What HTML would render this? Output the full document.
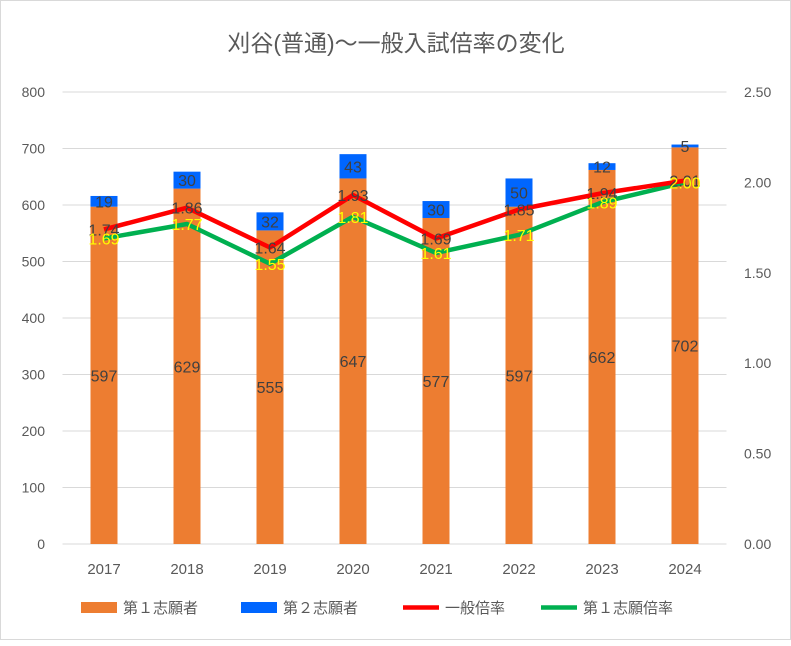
<!DOCTYPE html>
<html><head><meta charset="utf-8"><style>
body{margin:0;background:#fff;}
#c{position:absolute;left:0;top:0;width:789px;height:638px;border:1px solid #d9d9d9;background:#fff;}
text{font-family:"Liberation Sans","Noto Sans CJK JP",sans-serif;}
</style></head><body>
<div id="c">
<svg id="s" width="791" height="640" xmlns="http://www.w3.org/2000/svg"></svg>
</div>
<script>
const years=["2017","2018","2019","2020","2021","2022","2023","2024"];
const first=[597,629,555,647,577,597,662,702];
const second=[19,30,32,43,30,50,12,5];
const rateAll=[1.74,1.86,1.64,1.93,1.69,1.85,1.94,2.01];
const rateFirst=[1.69,1.77,1.55,1.81,1.61,1.71,1.89,2.00];
const leftTicks=[0,100,200,300,400,500,600,700,800];
const rightTicks=["0.00","0.50","1.00","1.50","2.00","2.50"];
const NS="http://www.w3.org/2000/svg";
const svg=document.getElementById('s');
const x0=61.5,x1=725.5,yb=543,yt=91;
const yL=v=>yb-(v/800)*(yb-yt);
const yR=v=>yb-(v/2.5)*(yb-yt);
const bw=(x1-x0)/years.length;
const xc=i=>x0+bw*(i+0.5);
function el(t,a,txt){const e=document.createElementNS(NS,t);for(const k in a)e.setAttribute(k,a[k]);if(txt!==undefined)e.textContent=txt;svg.appendChild(e);return e;}
let t=el('text',{x:395,y:50,'text-anchor':'middle','font-size':23,fill:'#595959'},'刈谷(普通)～一般入試倍率の変化');

leftTicks.forEach(v=>{let g=el('line',{x1:x0,x2:x1,y1:yL(v),y2:yL(v),stroke:'#d9d9d9','stroke-width':1});

let l=el('text',{x:44,y:yL(v)+5,'text-anchor':'end','font-size':14,fill:'#595959'},v);
});
rightTicks.forEach(v=>{let l=el('text',{x:743,y:yR(+v)+5,'font-size':14,fill:'#595959'},v);
});
const w=27;
years.forEach((y,i)=>{
let b=el('rect',{x:xc(i)-w/2,y:yL(first[i]),width:w,height:yb-yL(first[i]),fill:'#ed7d31'});

let b2=el('rect',{x:xc(i)-w/2,y:yL(first[i]+second[i]),width:w,height:yL(first[i])-yL(first[i]+second[i]),fill:'#0066ff'});

let l=el('text',{x:xc(i),y:yL(first[i]/2)+6,'text-anchor':'middle','font-size':16,fill:'#404040'},first[i]);

let l2=el('text',{x:xc(i),y:yL(first[i]+second[i]/2)+6,'text-anchor':'middle','font-size':16,fill:'#404040'},second[i]);

let xl=el('text',{x:xc(i),y:573,'text-anchor':'middle','font-size':15,fill:'#595959'},y);

});
function line(arr,col,name){let p=el('polyline',{points:arr.map((v,i)=>xc(i)+','+yR(v)).join(' '),fill:'none',stroke:col,'stroke-width':4.5,'stroke-linejoin':'round'});
}
line(rateFirst,'#00b050','line-first-rate');
line(rateAll,'#ff0000','line-general-rate');
years.forEach((y,i)=>{
let a=el('text',{x:xc(i),y:yR(rateAll[i])+6,'text-anchor':'middle','font-size':16,fill:'#404040'},rateAll[i].toFixed(2));

let f=el('text',{x:xc(i),y:yR(rateFirst[i])+6,'text-anchor':'middle','font-size':16,fill:'#ffff00'},rateFirst[i].toFixed(2));

});
const leg=[["rect",'#ed7d31','第１志願者',80,'legend-first-choice'],["rect",'#0066ff','第２志願者',240,'legend-second-choice'],["line",'#ff0000','一般倍率',402,'legend-general-rate'],["line",'#00b050','第１志願倍率',540,'legend-first-rate']];
leg.forEach(([k,c,txt,x,n])=>{
let m=k==="rect"?el('rect',{x:x,y:601,width:36,height:11,fill:c}):el('line',{x1:x,x2:x+36,y1:606.5,y2:606.5,stroke:c,'stroke-width':4.5});

let l=el('text',{x:x+42,y:612,'font-size':15,fill:'#595959'},txt);

});
</script>
</body></html>
